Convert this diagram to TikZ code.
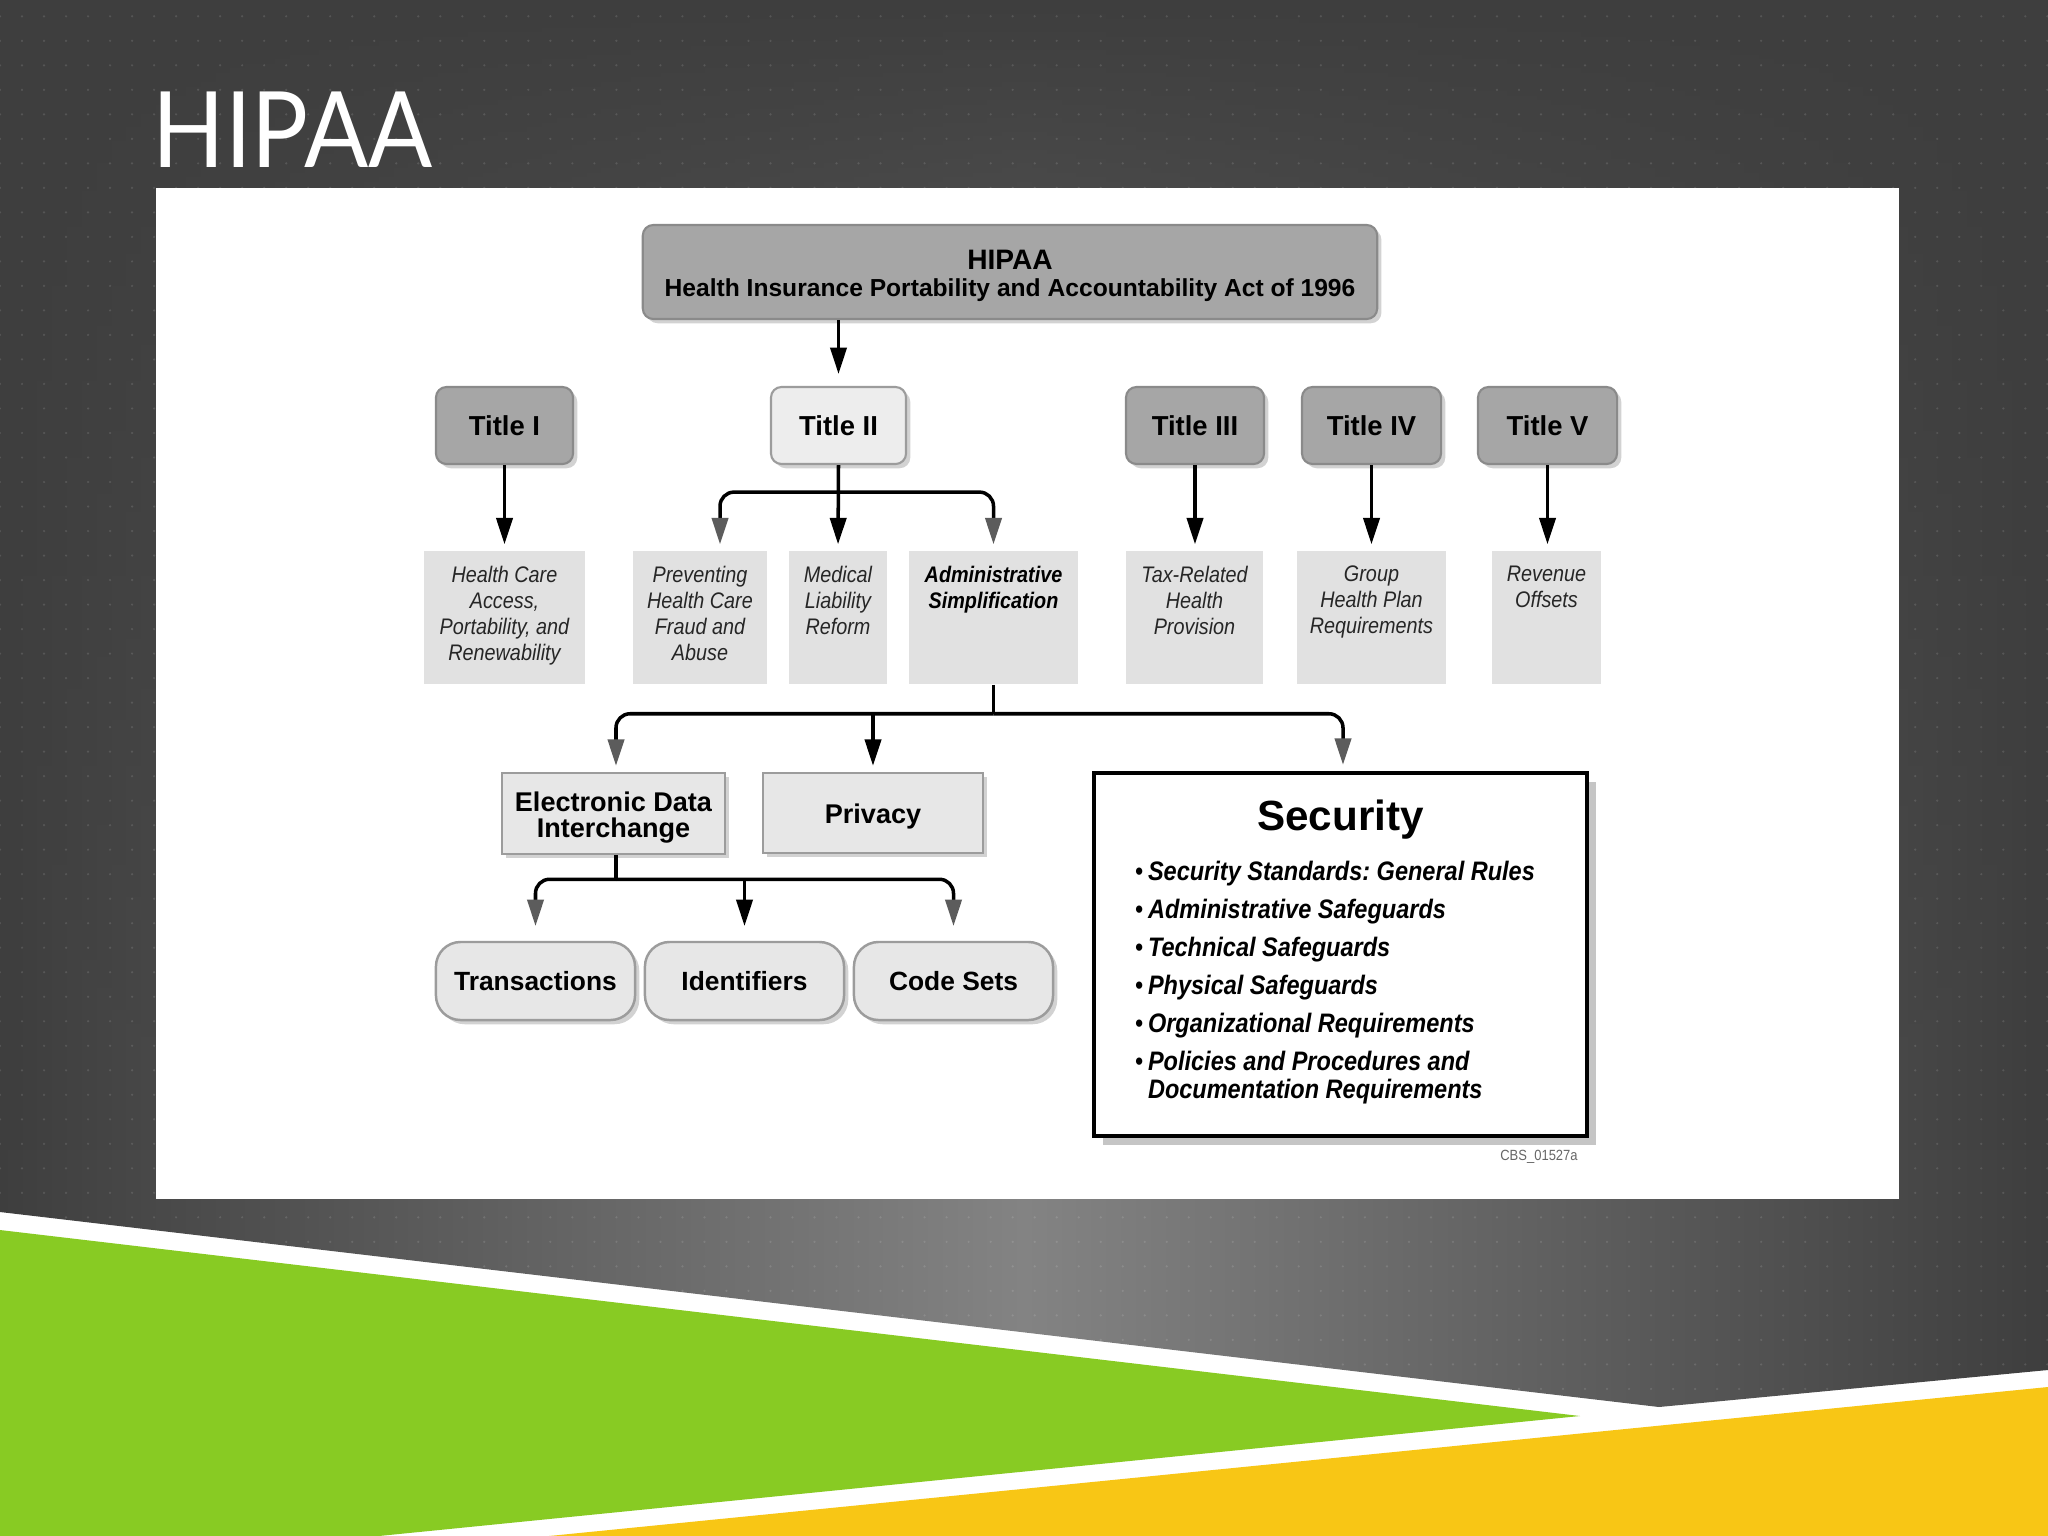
\documentclass[tikz,border=0pt]{standalone}
\usepackage{fontspec}
\setmainfont{Liberation Sans}
\newfontfamily\narrowfont[FakeStretch=0.88]{Liberation Sans}
\newfontfamily\slidefont[FakeStretch=0.9]{Lato}
\usetikzlibrary{arrows.meta,shadows,fadings,calc,patterns.meta}
\definecolor{bgdark}{HTML}{3E3E3E}
\definecolor{bglight}{HTML}{838383}
\definecolor{boxdark}{HTML}{A6A6A6}
\definecolor{boxdarkb}{HTML}{8A8A8A}
\definecolor{boxlight}{HTML}{EDEDED}
\definecolor{subfill}{HTML}{E1E1E1}
\definecolor{edifill}{HTML}{E7E7E7}
\definecolor{edib}{HTML}{9C9C9C}
\definecolor{arrgray}{HTML}{5C5C5C}
\definecolor{slgreen}{HTML}{88CB23}
\definecolor{slyellow}{HTML}{F8C615}
\tikzdeclarepattern{name=slidedots, type=uncolored, bottom left={(-1pt,-1pt)}, top right={(5.26pt,5.97pt)}, tile size={(6.26pt,6.97pt)}, code={\fill (0pt,0pt) circle (0.35pt);}}
\newcommand\subtxt[2]{\parbox[c][1.33cm][t]{#1}{\centering\vspace*{4.3pt}#2\par}}
\newcommand\secitem{\leavevmode\llap{\upshape\mdseries\makebox[3.7pt][l]{\textbullet}}}
\begin{document}
\begin{tikzpicture}[x=0.01cm,y=-0.01cm,
  shad/.style={drop shadow={opacity=0.35, shadow xshift=1.2pt, shadow yshift=-1.2pt}},
  hbox/.style={draw=boxdarkb, line width=0.6pt, fill=boxdark, rounded corners=3pt, inner sep=0pt, shad, font=\bfseries\fontsize{7}{7.7}\selectfont},
  tbox/.style={draw=boxdarkb, line width=0.6pt, fill=boxdark, rounded corners=3pt, minimum width=1.37cm, minimum height=0.77cm, inner sep=0pt, font=\bfseries\fontsize{7.8}{9}\selectfont, shad},
  sbox/.style={fill=subfill, inner sep=0pt, text=black!85, font=\narrowfont\itshape\fontsize{6.4}{7.4}\selectfont},
  ebox/.style={draw=edib, line width=0.7pt, fill=edifill, inner sep=0pt, font=\bfseries\fontsize{7.7}{7.4}\selectfont, shad},
  rbox/.style={draw=edib, line width=0.7pt, fill=edifill, rounded corners=7pt, minimum width=1.99cm, minimum height=0.78cm, inner sep=0pt, font=\bfseries\fontsize{7.5}{9}\selectfont, shad},
  secbox/.style={draw=black, line width=1.2pt, fill=white, inner sep=0pt, drop shadow={opacity=0.45, shadow xshift=2.6pt, shadow yshift=-2.6pt}},
  arr/.style={line width=1pt, -{Triangle[length=7.5pt,width=4.6pt]}},
  stem/.style={line width=1pt},
  garr/.style={line width=1pt, rounded corners=4pt, -{Triangle[length=7.5pt,width=4.6pt,color=arrgray]}}
]
\useasboundingbox (0,0) rectangle (2048,1536);
\fill[white] (0,0) rectangle (2048,1536);
% slide background
\begin{scope}
\clip (0,0) -- (2048,0) -- (2048,1370) -- (1659,1407) -- (0,1212) -- cycle;
\shade[left color=bgdark, right color=bgdark, middle color=bglight] (0,0) rectangle (2048,1420);
\fill[bgdark, path fading=south] (0,0) rectangle (2048,1150);
\fill[pattern=slidedots, pattern color=white, opacity=0.12] (0,0) rectangle (2048,1420);
\end{scope}
\fill[slgreen] (0,1230) -- (1580,1416) -- (379,1536) -- (0,1536) -- cycle;
\fill[slyellow] (549,1536) -- (2048,1387) -- (2048,1536) -- cycle;
\node[anchor=base west, inner sep=0pt, text=white, font=\slidefont\fontsize{30}{30}\selectfont] (title) at (152,167) {HIPAA};
\node[fill=white, minimum width=17.42cm, minimum height=10.11cm, inner sep=0pt, anchor=north west] (panel) at (155,187) {};
% top box
\node[hbox] (hipaa) at (1010,272) {\parbox[c][0.94cm][c]{7.34cm}{\centering\vspace{2pt}{\fontsize{8}{7.7}\selectfont HIPAA}\\Health Insurance Portability and Accountability Act of 1996\par}};
% titles
\node[tbox] (t1) at (504.5,425.5) {Title I};
\node[tbox, fill=boxlight, draw=edib, minimum width=1.35cm] (t2) at (838.5,425.5) {Title II};
\node[tbox, minimum width=1.38cm] (t3) at (1195,425.5) {Title III};
\node[tbox, minimum width=1.39cm] (t4) at (1371.5,425.5) {Title IV};
\node[tbox, minimum width=1.39cm] (t5) at (1547.5,425.5) {Title V};
% sub boxes
\node[sbox] (s1) at (504.5,617.5) {\subtxt{1.61cm}{Health Care\\Access,\\Portability, and\\Renewability}};
\node[sbox] (s2) at (700,617.5) {\subtxt{1.34cm}{Preventing\\Health Care\\Fraud and\\Abuse}};
\node[sbox] (s3) at (838,617.5) {\subtxt{0.98cm}{Medical\\Liability\\Reform}};
\node[sbox, text=black] (s4) at (993.5,617.5) {\subtxt{1.69cm}{\bfseries Administrative\\Simplification}};
\node[sbox] (s5) at (1194.5,617.5) {\subtxt{1.37cm}{Tax-Related\\Health\\Provision}};
\node[sbox] (s6) at (1371.5,617.5) {\subtxt{1.49cm}{Group\\Health Plan\\Requirements}};
\node[sbox] (s7) at (1546.5,617.5) {\subtxt{1.09cm}{Revenue\\Offsets}};
% third level
\node[ebox] (edi) at (613.5,813.5) {\parbox[c][0.81cm][c]{2.23cm}{\centering\vspace{2.2pt}Electronic Data\\Interchange\par}};
\node[ebox] (priv) at (873,813) {\parbox[c][0.80cm][c]{2.20cm}{\centering\vspace{2.2pt}Privacy\par}};
\node[secbox] (sec) at (1340.5,954.5) {\parbox[c][3.63cm][t]{4.93cm}{%
  \vspace*{7.7pt}%
  {\centering\bfseries\fontsize{12}{12}\selectfont Security\par}%
  \nointerlineskip\vspace{3.4pt}%
  {\frenchspacing\narrowfont\bfseries\itshape\fontsize{7.6}{8.1}\selectfont\parskip=2.7pt\leftskip=15.4pt\rightskip=0pt plus 1fil\parindent=0pt
  \secitem Security Standards: General Rules\par
  \secitem Administrative Safeguards\par
  \secitem Technical Safeguards\par
  \secitem Physical Safeguards\par
  \secitem Organizational Requirements\par
  \secitem Policies and Procedures and\\Documentation Requirements\par}}};
\node[font=\narrowfont\fontsize{4.2}{5}\selectfont, text=black!60, inner sep=0pt] (cbs) at (1539,1157) {CBS\_01527a};
% fourth level
\node[rbox] (tr) at (535.5,981) {Transactions};
\node[rbox] (idf) at (744.5,981) {Identifiers};
\node[rbox] (cs) at (953.5,981) {Code Sets};
% connectors
\draw[arr, shorten >=3.4pt] (t2.north |- hipaa.south) -- (t2.north);
\draw[arr, shorten >=1.7pt] (t1.south) -- (s1.north);
\draw[arr, shorten >=1.7pt] (t3.south) -- (t3.south |- s5.north);
\draw[arr, shorten >=1.7pt] (t4.south) -- (t4.south |- s6.north);
\draw[arr, shorten >=1.7pt] (t5.south) -- (t5.south |- s7.north);
\coordinate (bar1) at ($(t2.south)+(0,27)$);
\draw[arr, shorten >=1.7pt] (t2.south) -- (s3.north);
\draw[garr, shorten >=1.7pt] (bar1) -| ([xshift=0.2cm]s2.north);
\draw[garr, shorten >=1.7pt] (bar1) -| (s4.north);
\coordinate (bar2) at ($(s4.south)+(0,29)$);
\draw[stem] (s4.south) -- (bar2);
\draw[garr, shorten >=1.7pt] (bar2) -| ([xshift=0.025cm]edi.north);
\draw[garr, shorten >=1.7pt] (bar2) -| ([xshift=0.025cm]sec.north);
\draw[arr, shorten >=1.7pt] (priv.north |- bar2) -- (priv.north);
\coordinate (bar3) at ($([xshift=0.025cm]edi.south)+(0,24)$);
\draw[stem] ([xshift=0.025cm]edi.south) -- (bar3);
\draw[garr, shorten >=4.2pt] (bar3) -| (tr.north);
\draw[garr, shorten >=4.2pt] (bar3) -| (cs.north);
\draw[arr, shorten >=4.2pt] (idf.north |- bar3) -- (idf.north);
\end{tikzpicture}
\end{document}
